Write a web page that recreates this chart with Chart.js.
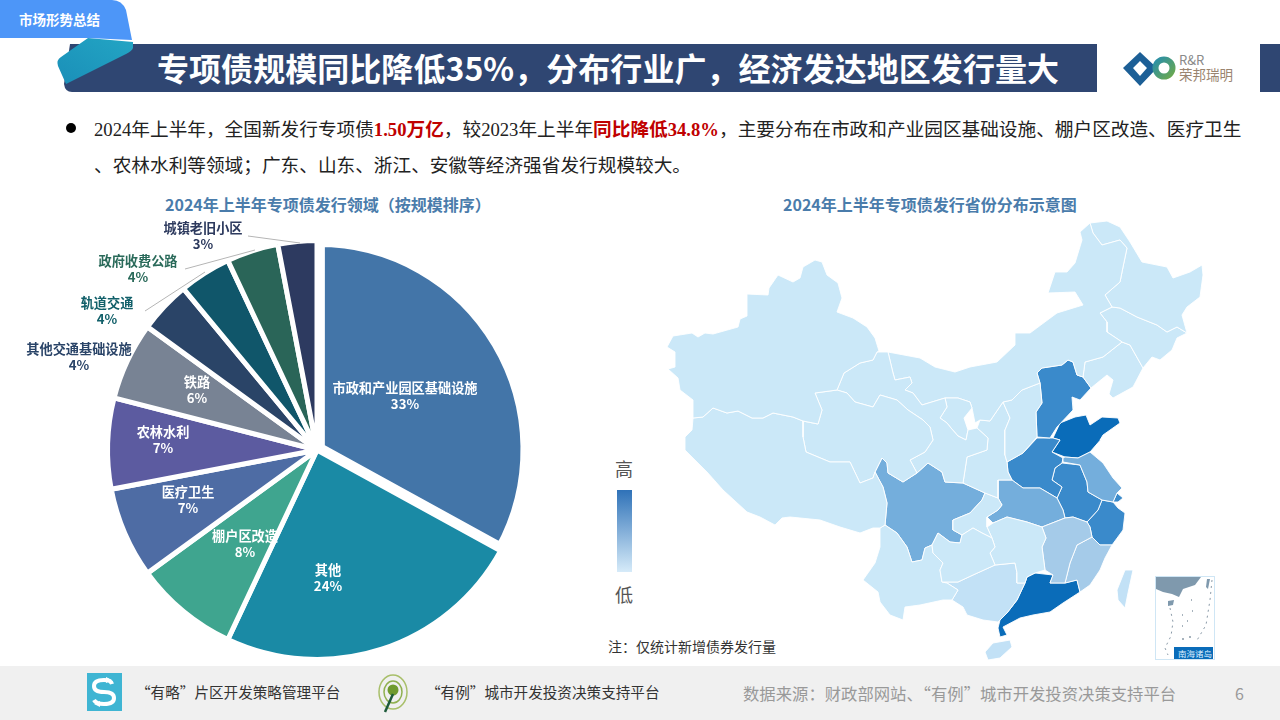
<!DOCTYPE html>
<html>
<head>
<meta charset="utf-8">
<script src="https://cdn.jsdelivr.net/npm/chart.js@4/dist/chart.umd.js"></script>
<style>
  html, body { margin: 0; padding: 0; background: #fff; }
  body { width: 1280px; height: 720px; position: relative; overflow: hidden; font-family: "Noto Sans CJK SC", sans-serif; }
  .t { position: absolute; white-space: nowrap; line-height: 1; }
  .num { font-family: "Liberation Serif", serif; }
  .red { color: #c00000; font-weight: 700; }
  canvas { position: absolute; }
  svg { position: absolute; left: 0; top: 0; }
</style>
</head>
<body>
<svg width="1280" height="720">
  <rect x="0" y="666" width="1280" height="54" fill="#f0f0f0"/>
  <path d="M70 44 H1097 V92 H72 Q65 92 64 84 Z" fill="#2f4672"/>
  <rect x="1260" y="44" width="20" height="48" fill="#2f4672"/>
  <defs>
    <linearGradient id="ribbon" x1="0" y1="1" x2="1" y2="0"><stop offset="0" stop-color="#1a8fb8"/><stop offset="1" stop-color="#23a5c4"/></linearGradient>
    <linearGradient id="key" x1="0" y1="0" x2="0" y2="1"><stop offset="0" stop-color="#2f72b8"/><stop offset="1" stop-color="#d6ebf9"/></linearGradient>
    <linearGradient id="logoRing" x1="0" y1="0" x2="1" y2="1"><stop offset="0" stop-color="#2a8fa8"/><stop offset="1" stop-color="#6aa84f"/></linearGradient>
  </defs>
  <path d="M88 38 L133 42 L133 48 Q132 51 126 54 L66 84 L58 66 Q56 60 61 57 Z" fill="url(#ribbon)"/>
  <path d="M0 0 H112 Q122 0 126 10 L132 40 L88 38 H0 Z" fill="#4d96f8"/>
  <circle cx="71" cy="128" r="5" fill="#000"/>
  <!-- logo -->
  <path d="M1140 52 L1157 68 L1140 86 L1123 68 Z M1140 61 L1133 68 L1140 76 L1147 68 Z" fill="#1c5f96" fill-rule="evenodd"/>
  <circle cx="1164" cy="68" r="8.5" fill="none" stroke="url(#logoRing)" stroke-width="6"/>
  <!-- inset -->
  <rect x="1155.5" y="576.5" width="59" height="83" fill="#fff" stroke="#cfe6f5"/>
  <path d="M1156 577 H1201 L1195 585 L1183 589 L1179 597 L1172 594 L1163 592 L1156 589 Z" fill="#7f99ad"/>
  <path d="M1168 601 L1174 600 L1173 605 L1168 606 Z" fill="#7f99ad"/>
  <path d="M1207 579 L1210 579 L1208 589 L1206 587 Z" fill="#7f99ad"/>
  <path d="M1170 608 L1173 622 L1171 636 L1165 648 L1168 655" fill="none" stroke="#8a9aa8" stroke-dasharray="2 4"/>
  <path d="M1212 580 L1210 600 L1206 625 L1196 642" fill="none" stroke="#8a9aa8" stroke-dasharray="2 4"/>
  <path d="M1191 600 h1 M1182 615 h1 M1192 611 h1 M1187 621 h1 M1182 626 h1 M1182 639 h2 M1189 637 h2" stroke="#8a9aa8" stroke-width="1.5"/>
  <rect x="1174" y="647" width="39" height="12" fill="#0a6cb9"/>
  <!-- footer icons -->
  <rect x="87" y="673" width="35" height="38" fill="#3fb5d3"/>
  <path d="M112 684 Q111 680 104 680 Q94 680 94 686 Q94 692 104 692 Q114 692 114 698 Q114 704 104 704 Q96 704 94 700" fill="none" stroke="#fff" stroke-width="4"/>
  <path d="M106 677 L112 680 L106 683 Z M100 701 L94 704 L100 707 Z" fill="#fff"/>
  <ellipse cx="393" cy="692" rx="14" ry="17" fill="none" stroke="#a8bf6a" stroke-width="1.5"/>
  <ellipse cx="393" cy="692" rx="9" ry="11" fill="none" stroke="#8fb04f" stroke-width="1.5"/>
  <circle cx="393" cy="690" r="5.5" fill="#6f9a2e"/>
  <path d="M393 694 L385 712" stroke="#1e5a3a" stroke-width="2.5"/>
  <!-- colour key -->
  <rect x="617" y="490" width="15" height="82" fill="url(#key)"/>
</svg>

<div class="t" style="left:19px;top:13px;font-size:13.5px;font-weight:700;color:#fff;">市场形势总结</div>
<div class="t" style="left:157px;top:51px;font-size:32px;font-weight:700;color:#fff;letter-spacing:0.05px;">专项债规模同比降低35%，分布行业广，经济发达地区发行量大</div>
<div class="t" style="left:1179px;top:53px;font-size:13px;color:#8a8a8a;">R&amp;R</div>
<div class="t" style="left:1179px;top:68px;font-size:13.5px;color:#9a8570;">荣邦瑞明</div>
<div class="t" style="left:94px;top:119px;font-size:18.67px;color:#222;"><span class="num">2024</span>年上半年，全国新发行专项债<span class="red"><span class="num">1.50</span>万亿</span>，较<span class="num">2023</span>年上半年<span class="red">同比降低<span class="num">34.8%</span></span>，主要分布在市政和产业园区基础设施、棚户区改造、医疗卫生</div>
<div class="t" style="left:94px;top:155px;font-size:18.67px;color:#222;">、农林水利等领域；广东、山东、浙江、安徽等经济强省发行规模较大。</div>
<div class="t" style="left:165px;top:196px;font-size:16px;font-weight:700;color:#4a7cab;">2024年上半年专项债发行领域（按规模排序）</div>
<div class="t" style="left:783px;top:196px;font-size:16px;font-weight:700;color:#4a7cab;">2024年上半年专项债发行省份分布示意图</div>
<div class="t" style="left:615px;top:459px;font-size:18px;color:#555;">高</div>
<div class="t" style="left:615px;top:585px;font-size:18px;color:#555;">低</div>
<div class="t" style="left:608px;top:639px;font-size:14px;color:#333;">注：仅统计新增债券发行量</div>
<div class="t" style="left:1178px;top:649px;font-size:8.5px;color:#dbeeff;">南海诸岛</div>
<div class="t" style="left:136px;top:685px;font-size:14.6px;color:#333;">“有略”片区开发策略管理平台</div>
<div class="t" style="left:426px;top:685px;font-size:14.6px;color:#333;">“有例”城市开发投资决策支持平台</div>
<div class="t" style="left:743px;top:685px;font-size:16.35px;color:#999;">数据来源：财政部网站、“有例”城市开发投资决策支持平台</div>
<div class="t" style="left:1235px;top:685px;font-size:16px;color:#999;">6</div>

<canvas id="pie" style="left:0;top:215px;width:634px;height:470px;"></canvas>
<canvas id="map" style="left:660px;top:215px;width:560px;height:450px;"></canvas>

<script>
// pie data
const categories = ['市政和产业园区基础设施', '其他', '棚户区改造', '医疗卫生', '农林水利', '铁路', '其他交通基础设施', '轨道交通', '政府收费公路', '城镇老旧小区'];
const shares = [33, 24, 8, 7, 7, 6, 4, 4, 4, 3];
const sliceColors = ['#4375a8', '#1a8aa5', '#3fa58f', '#4e6ca4', '#5c5ba0', '#788394', '#2a4467', '#10566a', '#2a6558', '#2d3a60'];
const labelColors = ['#fff', '#fff', '#fff', '#fff', '#fff', '#fff', '#2a4468', '#12606a', '#2a6a5a', '#2d3a5e'];
// where each label sits on the page, centre x / first line y
const labelSpots = [[405, 388], [328, 570], [245, 536], [188, 492], [163, 432], [197, 382], [79, 349], [107, 303], [138, 261], [203, 228]];
const leaderLines = [[[248, 236], [300, 243]], [[185, 269], [255, 250]], [[145, 311], [205, 272]]];

// map outlines
const xinjiang = [[667,347],[673,336],[692,333],[698,337],[705,333],[713,334],[738,327],[740,319],[747,316],[747,294],[768,295],[769,288],[778,275],[793,282],[800,278],[803,267],[815,260],[822,262],[827,275],[838,283],[842,298],[837,312],[853,318],[867,327],[875,338],[879,351],[877,352],[873,360],[860,363],[844,373],[837,390],[815,393],[822,410],[818,424],[803,421],[793,417],[773,413],[763,418],[752,418],[738,411],[727,413],[713,408],[703,417],[693,418],[693,400],[680,390],[678,378],[668,369],[675,367],[675,352]];
const tibet = [[693,418],[703,417],[713,408],[727,413],[738,411],[752,418],[763,418],[773,413],[793,417],[803,421],[803,437],[806,452],[830,462],[850,462],[860,483],[873,478],[875,472],[883,487],[887,503],[885,525],[880,528],[873,528],[860,533],[840,527],[820,520],[790,517],[782,518],[775,525],[760,517],[747,512],[723,490],[707,472],[685,450],[685,437],[692,430]];
const qinghai = [[815,393],[837,390],[847,393],[855,402],[873,407],[880,395],[897,400],[908,410],[923,420],[930,427],[933,440],[925,452],[910,460],[917,473],[903,482],[888,473],[887,463],[882,458],[875,472],[873,478],[860,483],[850,462],[830,462],[806,452],[803,437],[803,421],[818,424],[822,410]];
const gansu = [[877,352],[888,352],[893,373],[895,380],[910,377],[912,383],[905,390],[913,393],[922,405],[945,398],[947,407],[940,418],[947,423],[951,428],[958,436],[966,440],[968,430],[977,428],[988,438],[987,450],[967,457],[963,483],[945,482],[942,472],[928,463],[917,473],[910,460],[925,452],[933,440],[930,427],[923,420],[908,410],[897,400],[880,395],[873,407],[855,402],[847,393],[837,390],[844,373],[860,363],[873,360]];
const ningxia = [[945,398],[958,398],[970,402],[972,408],[964,418],[968,430],[966,440],[958,436],[951,428],[947,423],[940,418],[947,407]];
const innerMongolia = [[888,352],[920,358],[935,367],[955,372],[970,367],[997,362],[1015,345],[1015,333],[1030,333],[1057,313],[1083,305],[1075,292],[1048,293],[1055,272],[1067,272],[1075,263],[1082,240],[1080,232],[1090,223],[1093,233],[1102,245],[1120,240],[1127,248],[1123,267],[1120,282],[1105,295],[1112,307],[1100,313],[1107,322],[1107,332],[1122,342],[1103,357],[1085,362],[1083,377],[1077,375],[1073,362],[1068,360],[1062,365],[1042,368],[1037,373],[1040,383],[1022,390],[1012,400],[1003,402],[990,421],[980,420],[975,423],[972,408],[970,402],[958,398],[945,398],[922,405],[913,393],[905,390],[912,383],[910,377],[895,380],[893,373]];
const heilongjiang = [[1090,223],[1107,221],[1120,227],[1130,242],[1142,262],[1167,267],[1173,278],[1190,272],[1202,265],[1203,275],[1200,297],[1187,307],[1182,315],[1187,333],[1177,327],[1167,332],[1157,325],[1137,317],[1120,308],[1112,307],[1105,295],[1120,282],[1123,267],[1127,248],[1120,240],[1102,245],[1093,233]];
const jilin = [[1100,313],[1112,307],[1120,308],[1137,317],[1157,325],[1167,332],[1177,327],[1187,333],[1177,338],[1172,350],[1160,360],[1152,357],[1143,368],[1130,345],[1122,342],[1107,332],[1107,322]];
const liaoning = [[1122,342],[1130,345],[1143,368],[1133,387],[1113,398],[1109,394],[1113,380],[1107,375],[1091,388],[1083,377],[1085,362],[1103,357]];
const hebei = [[1037,373],[1042,368],[1062,365],[1068,360],[1073,362],[1077,375],[1083,377],[1091,388],[1080,400],[1072,397],[1073,410],[1057,427],[1050,438],[1037,437],[1036,412],[1042,403],[1040,383]];
const beijing = [[1052,390],[1060,378],[1070,387],[1065,397],[1053,397]];
const tianjin = [[1065,397],[1072,397],[1074,408],[1067,407]];
const shanxi = [[1003,402],[1012,400],[1022,390],[1040,383],[1042,403],[1036,412],[1037,437],[1023,453],[1007,462],[1005,455],[1005,430],[1010,418]];
const shaanxi = [[990,421],[1003,402],[1010,418],[1005,430],[1005,455],[1007,462],[1008,472],[1012,480],[998,480],[998,498],[985,493],[963,483],[967,457],[987,450],[988,438],[977,428],[980,420]];
const shandong = [[1053,438],[1060,423],[1075,417],[1086,415],[1090,425],[1102,417],[1118,418],[1120,423],[1103,435],[1100,440],[1103,437],[1090,452],[1078,458],[1065,457],[1052,452],[1060,440]];
const henan = [[1007,462],[1023,453],[1037,438],[1053,438],[1060,440],[1052,452],[1063,458],[1062,463],[1055,468],[1052,480],[1062,487],[1057,498],[1040,488],[1023,488],[1012,480],[1008,472]];
const jiangsu = [[1065,457],[1078,458],[1090,452],[1103,463],[1113,478],[1122,488],[1117,493],[1113,502],[1102,500],[1088,492],[1087,482],[1080,465],[1063,462],[1063,458]];
const shanghai = [[1117,493],[1123,498],[1118,502],[1113,502]];
const anhui = [[1052,480],[1055,468],[1062,463],[1080,465],[1087,482],[1088,492],[1102,500],[1098,510],[1087,522],[1073,517],[1065,518],[1063,510],[1057,498],[1062,487]];
const zhejiang = [[1087,522],[1098,510],[1102,500],[1113,502],[1118,508],[1125,513],[1123,530],[1112,545],[1100,545],[1092,537],[1090,527]];
const hubei = [[998,480],[1012,480],[1023,488],[1040,488],[1057,498],[1063,510],[1065,518],[1042,527],[1027,522],[1007,517],[993,523],[987,517],[998,510],[1002,505],[998,498]];
const sichuan = [[875,472],[882,458],[887,463],[888,473],[903,482],[917,473],[928,463],[942,472],[945,482],[963,483],[985,493],[982,500],[970,513],[953,520],[953,530],[962,535],[960,543],[950,542],[938,533],[932,545],[925,548],[922,560],[912,562],[907,547],[897,533],[885,525],[887,503],[883,487]];
const chongqing = [[985,493],[998,498],[1002,505],[998,510],[987,517],[987,527],[992,538],[982,533],[973,528],[962,535],[953,530],[953,520],[970,513],[982,500]];
const guizhou = [[932,545],[938,533],[950,542],[960,543],[962,535],[973,528],[982,533],[992,538],[995,547],[990,553],[995,565],[973,575],[958,582],[942,582],[940,570],[943,563],[933,553]];
const yunnan = [[885,525],[897,533],[907,547],[912,562],[922,560],[925,548],[932,545],[933,553],[943,563],[940,570],[942,582],[947,583],[958,590],[952,600],[943,600],[920,605],[905,607],[903,620],[890,615],[880,602],[878,592],[863,580],[875,563],[880,547],[880,528]];
const guangxi = [[942,582],[958,582],[973,575],[995,565],[1015,563],[1017,573],[1017,583],[1025,583],[1017,600],[1007,613],[998,622],[983,620],[967,615],[963,607],[952,600],[958,590],[947,583]];
const hunan = [[993,523],[1007,517],[1027,522],[1042,527],[1046,538],[1042,547],[1045,570],[1035,573],[1027,577],[1025,583],[1017,583],[1017,573],[1015,563],[995,565],[990,553],[995,547],[992,538],[987,527]];
const jiangxi = [[1042,527],[1065,518],[1073,517],[1087,522],[1090,527],[1092,537],[1077,545],[1070,563],[1065,583],[1050,583],[1053,575],[1045,570],[1042,547],[1046,538]];
const fujian = [[1092,537],[1100,545],[1112,545],[1105,558],[1100,570],[1090,585],[1080,592],[1077,580],[1065,583],[1070,563],[1077,545]];
const guangdong = [[1035,573],[1053,575],[1050,583],[1065,583],[1077,580],[1080,592],[1063,603],[1050,612],[1033,615],[1020,618],[1003,627],[1007,635],[1000,637],[998,628],[1000,620],[1007,613],[1017,600],[1025,583],[1027,577]];
const hainan = [[985,652],[993,643],[1010,640],[1012,647],[1000,658],[988,660]];
const taiwan = [[1117,590],[1125,570],[1133,570],[1128,593],[1125,608],[1118,600]];

const provinceShapes = [xinjiang, tibet, qinghai, gansu, ningxia, innerMongolia, heilongjiang, jilin, liaoning, shanxi, shaanxi, guizhou, yunnan, chongqing, hunan, guangxi, hainan, taiwan, jiangxi, fujian, hubei, sichuan, jiangsu, hebei, beijing, tianjin, henan, anhui, zhejiang, shanghai, shandong, guangdong];
// issuance level per province, 0 low .. 5 high
const provinceLevels = [0, 0, 0, 0, 0, 0, 0, 0, 0, 0, 0, 0, 0, 0, 0, 1, 1, 1, 2, 2, 3, 3, 3, 4, 0, 0, 4, 4, 4, 4, 5, 5];
const levelColors = ['#cbe8f8', '#c2e1f6', '#a5cbe9', '#74aedc', '#3a8acb', '#0a6cb9'];

const pieLabels = {
    id: 'pieLabels',
    afterDatasetsDraw(chart) {
        const ctx = chart.ctx;
        const top = chart.canvas.getBoundingClientRect().top;
        ctx.save();
        ctx.strokeStyle = '#b5b5b5';
        ctx.lineWidth = 1;
        leaderLines.forEach(l => {
            ctx.beginPath();
            ctx.moveTo(l[0][0], l[0][1] - top);
            ctx.lineTo(l[1][0], l[1][1] - top);
            ctx.stroke();
        });
        ctx.textAlign = 'center';
        ctx.textBaseline = 'middle';
        ctx.font = '700 13.2px "Noto Sans CJK SC"';
        categories.forEach((name, i) => {
            const [x, y] = labelSpots[i];
            ctx.fillStyle = labelColors[i];
            ctx.fillText(name, x, y - top);
            ctx.fillText(shares[i] + '%', x, y + 16 - top);
        });
        ctx.restore();
    }
};

new Chart(document.getElementById('pie'), {
    type: 'pie',
    data: {
        labels: categories,
        datasets: [{
            data: shares,
            backgroundColor: sliceColors,
            borderColor: '#fff',
            // the big slice sits apart and reads smaller, so it gets a wider white edge
            borderWidth: shares.map((s, i) => i === 0 ? 14 : 5),
            offset: shares.map((s, i) => i === 0 ? 4 : 0)
        }]
    },
    options: {
        responsive: false,
        animation: false,
        radius: 209.5,
        plugins: { legend: { display: false }, tooltip: { enabled: false } }
    },
    plugins: [pieLabels]
});

new Chart(document.getElementById('map'), {
    type: 'line',
    data: {
        datasets: provinceShapes.map((shape, i) => ({
            data: shape.concat([shape[0]]).map(p => ({ x: p[0], y: p[1] })),
            borderColor: 'rgba(255,255,255,0.9)',
            borderWidth: 1,
            backgroundColor: levelColors[provinceLevels[i]],
            pointRadius: 0,
            tension: 0,
            fill: 'shape'
        }))
    },
    options: {
        responsive: false,
        animation: false,
        scales: {
            x: { type: 'linear', display: false, min: 660, max: 1220 },
            y: { type: 'linear', display: false, min: 215, max: 665, reverse: true }
        },
        plugins: { legend: { display: false }, tooltip: { enabled: false } }
    }
});
</script>
</body>
</html>
